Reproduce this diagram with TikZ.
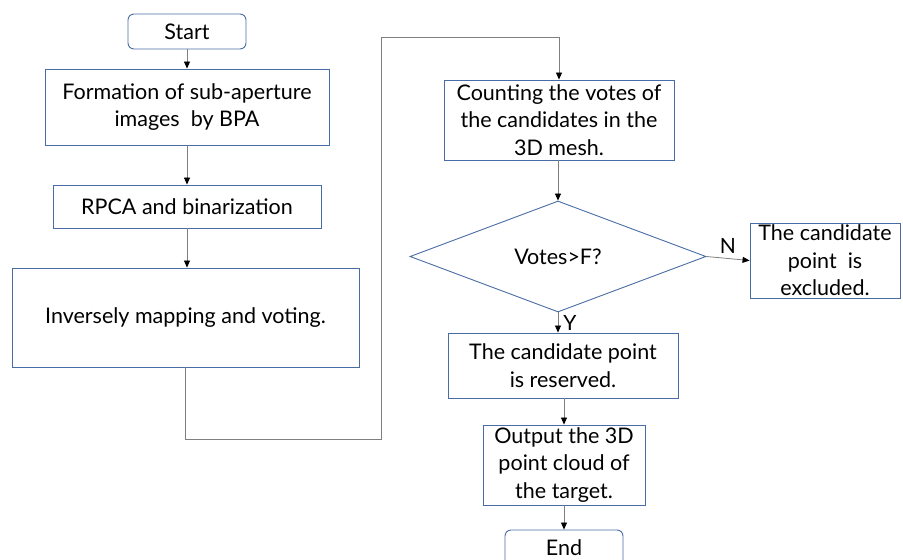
\documentclass[tikz,border=0pt]{standalone}
\usepackage{fontspec}
\setmainfont{Lato}
\usetikzlibrary{shapes.geometric,arrows.meta}
\definecolor{bordc}{HTML}{4A6CA5}
\definecolor{linec}{HTML}{7F7F7F}
\begin{document}
\begin{tikzpicture}[x=1pt,y=-1pt,
  font=\fontsize{21.5}{27.5}\selectfont,
  box/.style={draw=bordc,line width=0.9pt,rectangle,inner sep=0pt,align=center,fill=white},
  term/.style={box,rounded corners=6pt},
  conn/.style={draw=linec,line width=0.8pt,-{Triangle[length=7pt,width=6pt,fill=black,color=black]}},
  lbl/.style={font=\fontsize{21}{22}\selectfont,inner sep=0pt}]
\useasboundingbox (0,0) rectangle (903,560);
\node[term,minimum width=118pt,minimum height=35pt] (start) at (187,31.5) {Start};
\node[box,minimum width=284pt,minimum height=76pt] (form) at (187,107) {Formation of sub-aperture\\images\ \ by BPA};
\node[box,minimum width=268pt,minimum height=43pt] (rpca) at (187,206.5) {RPCA and binarization};
\node[box,minimum width=347pt,minimum height=99pt] (inv) at (185.5,317.5) {Inversely mapping and voting.};
\node[box,minimum width=230pt,minimum height=80pt] (count) at (559,120) {Counting the votes of\\the candidates in the\\3D mesh.};
\node[draw=bordc,line width=0.9pt,diamond,aspect=2.67,inner sep=0pt,minimum width=296pt,minimum height=111pt] (dec) at (558,256.5) {Votes>F?};
\node[box,minimum width=150pt,minimum height=75pt] (excl) at (825,260.5) {The candidate\\point\ \ is\\excluded.};
\node[box,minimum width=230pt,minimum height=65pt] (res) at (563,365.5) {The candidate point\\is reserved.};
\node[box,minimum width=162pt,minimum height=80pt] (out) at (564,465) {Output the 3D\\point cloud of\\the target.};
\node[term,minimum width=118pt,minimum height=36pt] (endn) at (564,548) {End};
\coordinate (c1) at (185,439);
\coordinate (c2) at (381,439);
\coordinate (c3) at (381,37);
\coordinate (c4) at (559,37);
\draw[conn] (start.south) -- (form.north);
\draw[conn] (form.south) -- (rpca.north);
\draw[conn] (rpca.south) -- (rpca.south |- inv.north);
\draw[conn] (inv.south -| c1) -- (c1) -- (c2) -- (c3) -- (c4) -- (count.north);
\draw[conn] (count.south -| dec.north) -- (dec.north);
\draw[conn] (dec.south) -- (dec.south |- res.north) node[lbl,midway,right=5pt] {Y};
\draw[conn] (dec.east) -- (excl.west) node[lbl,midway,above=5pt] {N};
\draw[conn] (res.south -| out.north) -- (out.north);
\draw[conn] (out.south) -- (endn.north);
\end{tikzpicture}
\end{document}
